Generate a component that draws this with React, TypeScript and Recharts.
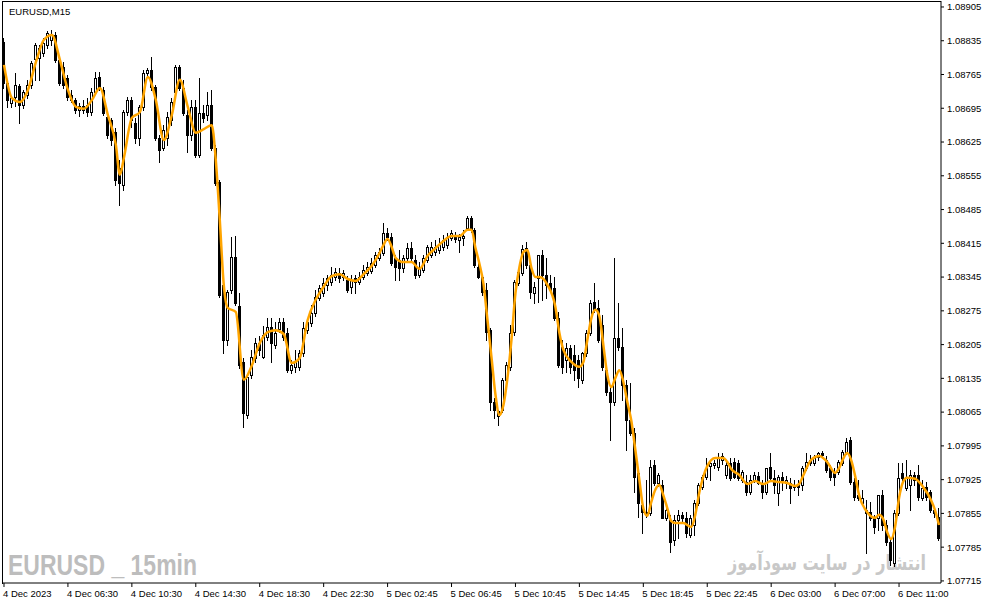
import React from 'react';
import { ComposedChart, Bar, Line, XAxis, YAxis } from 'recharts';

const openPrices = [
  1.08832,1.08747,1.08706,1.08718,1.08741,1.08702,1.08723,1.08743,1.08797,1.08799,
  1.08810,1.08826,1.08837,1.08847,1.08795,1.08781,1.08758,1.08723,1.08712,1.08691,
  1.08700,1.08702,1.08687,1.08729,1.08760,1.08733,1.08677,1.08671,1.08646,1.08571,
  1.08536,1.08687,1.08712,1.08665,1.08633,1.08698,1.08768,1.08774,1.08739,1.08633,
  1.08613,1.08633,1.08671,1.08729,1.08781,1.08737,1.08681,1.08640,1.08698,1.08598,
  1.08685,1.08681,1.08702,1.08613,1.08542,1.08329,1.08215,1.08318,1.08387,1.08285,
  1.08169,1.08059,1.08142,1.08177,1.08208,1.08179,1.08221,1.08242,1.08204,1.08237,
  1.08252,1.08229,1.08152,1.08159,1.08159,1.08188,1.08235,1.08250,1.08271,1.08302,
  1.08312,1.08329,1.08335,1.08345,1.08354,1.08345,1.08339,1.08325,1.08343,1.08335,
  1.08345,1.08354,1.08358,1.08370,1.08385,1.08395,1.08436,1.08428,1.08385,1.08381,
  1.08364,1.08385,1.08405,1.08381,1.08349,1.08360,1.08381,1.08391,1.08397,1.08401,
  1.08408,1.08412,1.08426,1.08432,1.08422,1.08426,1.08447,1.08468,1.08443,1.08366,
  1.08345,1.08318,1.08235,1.08086,1.08057,1.08070,1.08132,1.08159,1.08231,1.08333,
  1.08354,1.08405,1.08370,1.08312,1.08343,1.08391,1.08349,1.08333,1.08322,1.08260,
  1.08200,1.08173,1.08198,1.08184,1.08173,1.08132,1.08188,1.08229,1.08293,1.08281,
  1.08246,1.08152,1.08107,1.08086,1.08219,1.08200,1.08121,1.08049,1.08022,1.07939,
  1.07873,1.07858,1.07856,1.07956,1.07918,1.07914,1.07846,1.07842,1.07800,1.07842,
  1.07852,1.07846,1.07811,1.07831,1.07877,1.07910,1.07931,1.07953,1.07956,1.07951,
  1.07966,1.07935,1.07960,1.07962,1.07960,1.07925,1.07920,1.07900,1.07925,1.07933,
  1.07914,1.07900,1.07951,1.07929,1.07898,1.07931,1.07918,1.07918,1.07910,1.07914,
  1.07914,1.07949,1.07966,1.07960,1.07972,1.07980,1.07966,1.07949,1.07941,1.07941,
  1.07960,1.07982,1.08007,1.07920,1.07893,1.07877,1.07856,1.07858,1.07846,1.07846,
  1.07893,1.07831,1.07796,1.07752,1.07856,1.07939,1.07908,1.07914,1.07935,1.07935,
  1.07887,1.07910,1.07900,1.07862,1.07848,
];

const highPrices = [
  1.08841,1.08754,1.08720,1.08768,1.08745,1.08733,1.08754,1.08793,1.08830,1.08826,
  1.08841,1.08855,1.08857,1.08853,1.08799,1.08791,1.08764,1.08733,1.08716,1.08706,
  1.08712,1.08716,1.08737,1.08770,1.08770,1.08739,1.08687,1.08675,1.08654,1.08588,
  1.08691,1.08718,1.08718,1.08675,1.08702,1.08774,1.08779,1.08801,1.08743,1.08640,
  1.08660,1.08687,1.08716,1.08785,1.08785,1.08754,1.08691,1.08712,1.08712,1.08758,
  1.08702,1.08729,1.08733,1.08619,1.08546,1.08333,1.08318,1.08428,1.08430,1.08312,
  1.08177,1.08144,1.08194,1.08219,1.08223,1.08244,1.08260,1.08260,1.08252,1.08260,
  1.08260,1.08240,1.08173,1.08194,1.08194,1.08252,1.08260,1.08287,1.08318,1.08329,
  1.08343,1.08349,1.08366,1.08364,1.08364,1.08360,1.08347,1.08349,1.08349,1.08356,
  1.08370,1.08376,1.08385,1.08397,1.08405,1.08457,1.08447,1.08436,1.08391,1.08401,
  1.08391,1.08416,1.08418,1.08391,1.08376,1.08391,1.08412,1.08418,1.08422,1.08426,
  1.08432,1.08436,1.08443,1.08438,1.08434,1.08443,1.08472,1.08472,1.08447,1.08374,
  1.08349,1.08333,1.08240,1.08094,1.08070,1.08136,1.08169,1.08246,1.08339,1.08364,
  1.08412,1.08418,1.08381,1.08335,1.08391,1.08401,1.08385,1.08349,1.08345,1.08273,
  1.08215,1.08208,1.08204,1.08204,1.08184,1.08190,1.08235,1.08298,1.08333,1.08298,
  1.08267,1.08159,1.08121,1.08385,1.08291,1.08240,1.08132,1.08126,1.08032,1.07949,
  1.07883,1.07925,1.07966,1.07966,1.07939,1.07925,1.07877,1.07852,1.07852,1.07862,
  1.07858,1.07858,1.07852,1.07883,1.07918,1.07935,1.07970,1.07966,1.07966,1.07980,
  1.07980,1.07962,1.07970,1.07970,1.07966,1.07945,1.07935,1.07935,1.07941,1.07941,
  1.07925,1.07949,1.07980,1.07945,1.07935,1.07941,1.07933,1.07929,1.07925,1.07925,
  1.07953,1.07980,1.07976,1.07976,1.07982,1.07985,1.07974,1.07956,1.07949,1.07966,
  1.07987,1.08012,1.08014,1.07929,1.07925,1.07904,1.07883,1.07879,1.07852,1.07893,
  1.07904,1.07842,1.07804,1.07862,1.07960,1.07960,1.07966,1.07945,1.07941,1.07956,
  1.07925,1.07920,1.07904,1.07866,1.07866,
];

const lowPrices = [
  1.08737,1.08698,1.08698,1.08700,1.08665,1.08696,1.08716,1.08737,1.08754,1.08754,
  1.08803,1.08820,1.08826,1.08791,1.08743,1.08737,1.08712,1.08708,1.08685,1.08679,
  1.08685,1.08679,1.08681,1.08725,1.08733,1.08681,1.08633,1.08619,1.08536,1.08495,
  1.08526,1.08681,1.08656,1.08623,1.08619,1.08691,1.08764,1.08733,1.08629,1.08584,
  1.08609,1.08619,1.08660,1.08723,1.08733,1.08681,1.08604,1.08629,1.08594,1.08594,
  1.08667,1.08671,1.08609,1.08536,1.08304,1.08188,1.08204,1.08312,1.08287,1.08157,
  1.08034,1.08053,1.08136,1.08169,1.08184,1.08177,1.08215,1.08169,1.08198,1.08231,
  1.08215,1.08148,1.08146,1.08148,1.08152,1.08182,1.08229,1.08244,1.08264,1.08298,
  1.08306,1.08318,1.08329,1.08339,1.08335,1.08339,1.08314,1.08312,1.08312,1.08331,
  1.08341,1.08349,1.08354,1.08366,1.08381,1.08391,1.08422,1.08370,1.08339,1.08339,
  1.08356,1.08376,1.08376,1.08343,1.08345,1.08356,1.08376,1.08387,1.08391,1.08395,
  1.08401,1.08405,1.08422,1.08418,1.08397,1.08412,1.08443,1.08438,1.08366,1.08343,
  1.08308,1.08215,1.08070,1.08053,1.08038,1.08065,1.08126,1.08152,1.08225,1.08329,
  1.08349,1.08364,1.08302,1.08291,1.08293,1.08298,1.08302,1.08318,1.08256,1.08159,
  1.08146,1.08148,1.08146,1.08132,1.08117,1.08126,1.08182,1.08225,1.08273,1.08211,
  1.08152,1.08101,1.08007,1.08080,1.08194,1.08090,1.07987,1.08018,1.07900,1.07848,
  1.07815,1.07848,1.07852,1.07914,1.07912,1.07846,1.07842,1.07775,1.07790,1.07804,
  1.07837,1.07806,1.07806,1.07811,1.07873,1.07906,1.07927,1.07925,1.07949,1.07945,
  1.07958,1.07929,1.07925,1.07929,1.07925,1.07920,1.07893,1.07896,1.07920,1.07916,
  1.07887,1.07896,1.07925,1.07898,1.07873,1.07904,1.07908,1.07877,1.07904,1.07893,
  1.07904,1.07945,1.07956,1.07956,1.07966,1.07972,1.07941,1.07925,1.07914,1.07937,
  1.07956,1.07978,1.07916,1.07883,1.07883,1.07873,1.07773,1.07842,1.07815,1.07821,
  1.07821,1.07790,1.07748,1.07746,1.07852,1.07925,1.07904,1.07862,1.07914,1.07883,
  1.07883,1.07883,1.07858,1.07848,1.07800,
];

const closePrices = [
  1.08747,1.08712,1.08716,1.08743,1.08702,1.08729,1.08743,1.08789,1.08826,1.08820,
  1.08830,1.08851,1.08847,1.08795,1.08747,1.08743,1.08718,1.08712,1.08691,1.08700,
  1.08691,1.08687,1.08729,1.08758,1.08739,1.08685,1.08640,1.08629,1.08546,1.08540,
  1.08687,1.08712,1.08671,1.08633,1.08698,1.08768,1.08774,1.08739,1.08633,1.08609,
  1.08650,1.08677,1.08708,1.08781,1.08737,1.08685,1.08640,1.08698,1.08598,1.08685,
  1.08675,1.08702,1.08613,1.08540,1.08308,1.08215,1.08314,1.08387,1.08291,1.08163,
  1.08063,1.08138,1.08179,1.08208,1.08194,1.08225,1.08242,1.08208,1.08229,1.08252,
  1.08221,1.08152,1.08163,1.08169,1.08188,1.08240,1.08252,1.08271,1.08304,1.08322,
  1.08333,1.08343,1.08349,1.08356,1.08343,1.08354,1.08318,1.08339,1.08335,1.08345,
  1.08360,1.08366,1.08374,1.08391,1.08397,1.08436,1.08428,1.08374,1.08366,1.08364,
  1.08385,1.08405,1.08385,1.08349,1.08364,1.08385,1.08408,1.08408,1.08408,1.08412,
  1.08422,1.08428,1.08436,1.08424,1.08428,1.08430,1.08468,1.08443,1.08370,1.08345,
  1.08314,1.08231,1.08086,1.08070,1.08067,1.08132,1.08163,1.08229,1.08335,1.08356,
  1.08403,1.08370,1.08314,1.08325,1.08391,1.08349,1.08329,1.08318,1.08260,1.08163,
  1.08159,1.08198,1.08159,1.08152,1.08136,1.08188,1.08229,1.08291,1.08277,1.08215,
  1.08159,1.08107,1.08086,1.08219,1.08200,1.08121,1.08049,1.08022,1.07931,1.07877,
  1.07858,1.07854,1.07951,1.07918,1.07935,1.07846,1.07862,1.07796,1.07842,1.07852,
  1.07846,1.07815,1.07846,1.07877,1.07914,1.07931,1.07949,1.07960,1.07960,1.07970,
  1.07974,1.07956,1.07929,1.07931,1.07929,1.07941,1.07900,1.07925,1.07935,1.07918,
  1.07900,1.07949,1.07929,1.07914,1.07931,1.07925,1.07925,1.07908,1.07914,1.07910,
  1.07949,1.07962,1.07960,1.07972,1.07980,1.07976,1.07945,1.07931,1.07931,1.07962,
  1.07982,1.08003,1.07920,1.07889,1.07887,1.07887,1.07862,1.07846,1.07827,1.07893,
  1.07831,1.07796,1.07759,1.07856,1.07929,1.07929,1.07931,1.07935,1.07925,1.07889,
  1.07908,1.07889,1.07862,1.07856,1.07804,
];

// Orange moving-average line, read at these bar positions
const maBars = [
  0,2,4,6,8,10,12,14,16,18,20,22,24,26,28,29,30,32,34,36,38,40,42,44,46,48,50,52,53,54,55,56,58,
  60,62,64,66,68,70,72,74,76,78,80,82,84,86,88,90,92,94,95,96,97,98,100,102,104,106,108,110,112,
  114,116,117,118,119,120,121,122,123,124,125,126,127,128,129,130,131,132,133,134,136,138,139,140,
  142,144,145,146,147,148,149,150,151,152,153,154,155,156,157,158,159,160,161,162,163,164,165,166,
  167,168,170,172,173,174,175,176,178,180,181,182,184,186,188,190,192,194,196,198,199,200,202,204,
  206,208,209,210,211,212,213,214,216,218,219,220,221,222,223,224,225,226,228,230,232,233,234,
];
const maValues = [
  1.08785,1.08716,1.08708,1.08733,1.08791,1.08837,1.08847,1.08795,1.08733,1.08698,1.08694,1.08712,
  1.08737,1.08681,1.08619,1.08557,1.08592,1.08675,1.08687,1.08760,1.08712,1.08629,1.08681,1.08754,
  1.08698,1.08644,1.08652,1.08660,1.08588,1.08464,1.08329,1.08281,1.08273,
  1.08132,1.08161,1.08208,1.08231,1.08235,1.08227,1.08167,1.08177,1.08256,1.08298,1.08325,1.08347,
  1.08351,1.08341,1.08337,1.08351,1.08368,1.08395,1.08412,1.08424,1.08408,1.08385,1.08376,1.08376,
  1.08362,1.08389,1.08405,1.08420,1.08430,
  1.08430,1.08443,1.08443,1.08405,1.08372,1.08331,1.08256,1.08179,1.08101,1.08059,1.08080,1.08136,
  1.08215,1.08312,1.08366,1.08397,1.08401,1.08364,1.08345,1.08345,1.08329,1.08283,1.08229,1.08194,
  1.08169,1.08159,1.08169,1.08215,1.08260,1.08277,1.08264,1.08204,1.08142,1.08117,1.08136,1.08152,
  1.08128,1.08086,1.08047,1.07987,1.07925,1.07866,1.07850,1.07879,1.07904,1.07914,1.07893,1.07866,
  1.07839,1.07835,1.07835,1.07827,1.07852,1.07898,1.07931,1.07953,1.07970,1.07970,1.07962,1.07947,
  1.07935,1.07916,1.07922,1.07916,1.07922,1.07920,1.07918,1.07912,1.07916,1.07933,1.07966,1.07974,
  1.07962,1.07939,1.07949,1.07968,1.07980,1.07966,1.07933,1.07893,1.07858,1.07846,1.07852,1.07844,
  1.07817,1.07802,1.07827,1.07887,1.07920,1.07929,1.07927,1.07910,1.07883,1.07862,1.07831,
];

const timeTickBars = [0, 16, 32, 48, 64, 80, 96, 112, 128, 144, 160, 176, 192, 208, 224];
const timeTickLabels = [
  '4 Dec 2023', '4 Dec 06:30', '4 Dec 10:30', '4 Dec 14:30', '4 Dec 18:30', '4 Dec 22:30',
  '5 Dec 02:45', '5 Dec 06:45', '5 Dec 10:45', '5 Dec 14:45', '5 Dec 18:45', '5 Dec 22:45',
  '6 Dec 03:00', '6 Dec 07:00', '6 Dec 11:00',
];
const priceTicks = [
  1.07715, 1.07785, 1.07855, 1.07925, 1.07995, 1.08065, 1.08135, 1.08205, 1.08275,
  1.08345, 1.08415, 1.08485, 1.08555, 1.08625, 1.08695, 1.08765, 1.08835, 1.08905,
];

const maMap = new Map<number, number>(maBars.map((b, k) => [b, maValues[k]]));
const data = openPrices.map((o, i) => ({
  i,
  o,
  h: highPrices[i],
  l: lowPrices[i],
  c: closePrices[i],
  range: [lowPrices[i], highPrices[i]],
  ma: maMap.has(i) ? maMap.get(i) : null,
}));

const FONT = "'Liberation Sans', Arial, sans-serif";

const Candle = (props: any) => {
  const { x, y, width, height, payload } = props;
  if (x == null || y == null || !payload) return null;
  const { o, h, l, c } = payload;
  const span = h - l;
  const k = span > 0 ? height / span : 0;
  const cx = Math.floor(x + width / 2);
  const yo = y + (h - o) * k;
  const yc = y + (h - c) * k;
  const top = Math.round(Math.min(yo, yc));
  const bot = Math.round(Math.max(yo, yc));
  const wTop = Math.round(y);
  const wBot = Math.round(y + height);
  const bull = c > o;
  return (
    <g>
      <line x1={cx + 0.5} x2={cx + 0.5} y1={wTop} y2={wBot + 1} stroke="#000" strokeWidth={1} />
      {bull ? (
        <rect x={cx - 0.5} y={top + 0.5} width={2} height={Math.max(bot - top, 1)} fill="#fff" stroke="#000" strokeWidth={1} />
      ) : (
        <rect x={cx - 1} y={top} width={3} height={Math.max(bot - top + 1, 1)} fill="#000" />
      )}
    </g>
  );
};

const XTick = (props: any) => {
  const { x, payload } = props;
  const idx = timeTickBars.indexOf(payload.value);
  if (idx < 0) return null;
  return (
    <text x={x - 1} y={597} textAnchor="start" fontSize={9.5} fill="#000" fontFamily={FONT}>
      {timeTickLabels[idx]}
    </text>
  );
};

export default function App() {
  return (
    <div style={{ position: 'absolute', left: 0, top: 0, width: 987, height: 605, background: '#fff', overflow: 'hidden' }}>
      <svg width={987} height={605} style={{ position: 'absolute', left: 0, top: 0 }}>
        <text x={8} y={575} fontSize={30} fontWeight="bold" fill="#bdbdbd" fontFamily={FONT} textLength={189} lengthAdjust="spacingAndGlyphs">
          EURUSD _ 15min
        </text>
        <text x={827} y={570} fontSize={21} fontWeight="bold" fill="#c8c8c8" fontFamily="'DejaVu Sans', sans-serif" textAnchor="middle" textLength={198} lengthAdjust="spacingAndGlyphs">
          انتشار در سایت سودآموز
        </text>
        <text x={9} y={15} fontSize={9.5} fill="#000" fontFamily={FONT}>EURUSD,M15</text>
        <line x1={2.5} x2={2.5} y1={1} y2={584} stroke="#000" strokeWidth={1} />
        <line x1={2} x2={941} y1={1.5} y2={1.5} stroke="#000" strokeWidth={1} />
      </svg>
      <div style={{ position: 'absolute', left: 0, top: 0 }}>
        <ComposedChart width={987} height={605} data={data} margin={{ top: 1, right: 0, bottom: 0, left: 2 }} barCategoryGap={0}>
          <XAxis
            dataKey="i"
            ticks={timeTickBars}
            interval={0}
            height={22}
            tickSize={4}
            axisLine={{ stroke: '#000' }}
            tickLine={{ stroke: '#000' }}
            tick={<XTick />}
          />
          <YAxis
            orientation="right"
            type="number"
            domain={[1.077107, 1.089174]}
            allowDataOverflow
            ticks={priceTicks}
            interval={0}
            width={46}
            tickSize={3}
            tickMargin={3}
            axisLine={{ stroke: '#000' }}
            tickLine={{ stroke: '#000' }}
            tick={{ fontSize: 9.5, fill: '#000', fontFamily: FONT }}
            tickFormatter={(v: number) => v.toFixed(5)}
          />
          <Bar dataKey="range" barSize={3} shape={<Candle />} isAnimationActive={false} />
          <Line dataKey="ma" type="monotone" stroke="#FFA500" strokeWidth={2.5} dot={false} activeDot={false} connectNulls isAnimationActive={false} />
        </ComposedChart>
      </div>
    </div>
  );
}
